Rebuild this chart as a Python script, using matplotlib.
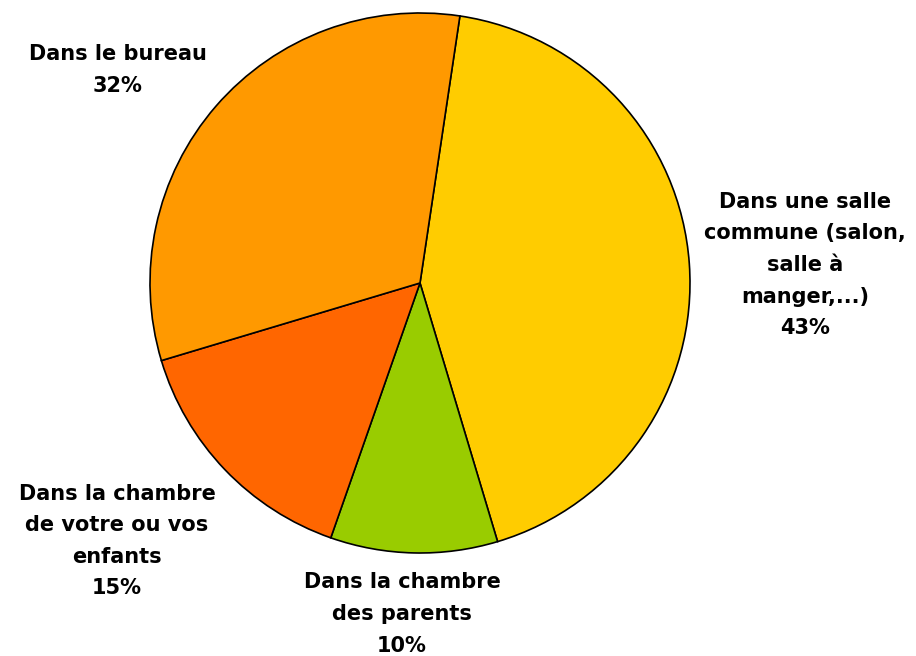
import matplotlib.pyplot as plt

labels = ["Dans une salle\ncommune (salon,\nsalle à\nmanger,...)",
          "Dans la chambre\ndes parents",
          "Dans la chambre\nde votre ou vos\nenfants",
          "Dans le bureau"]
values = [43, 10, 15, 32]
colors = ["#FFCC00", "#99CC00", "#FF6600", "#FF9900"]
# label centres in pixels (x, y from top)
label_px = [(805, 265), (402, 614), (117, 541), (118, 70)]

W, H = 916, 656
cx, cy, r = 420, 283, 270

fig = plt.figure(figsize=(W / 100, H / 100), dpi=100)
ax = fig.add_axes([0, 0, 1, 1])
ax.pie(values, colors=colors, startangle=81.5, counterclock=False,
       wedgeprops=dict(edgecolor="black", linewidth=1.2))
ax.set_xlim(-cx / r, (W - cx) / r)
ax.set_ylim(-(H - cy) / r, cy / r)
ax.set_aspect("equal")
ax.axis("off")

for lab, v, (px, py) in zip(labels, values, label_px):
    ax.text((px - cx) / r, (cy - py) / r, "%s\n%d%%" % (lab, v),
            ha="center", va="center", fontsize=15, fontweight="bold",
            linespacing=1.72, family="DejaVu Sans")

fig.savefig("out.png", dpi=100)
